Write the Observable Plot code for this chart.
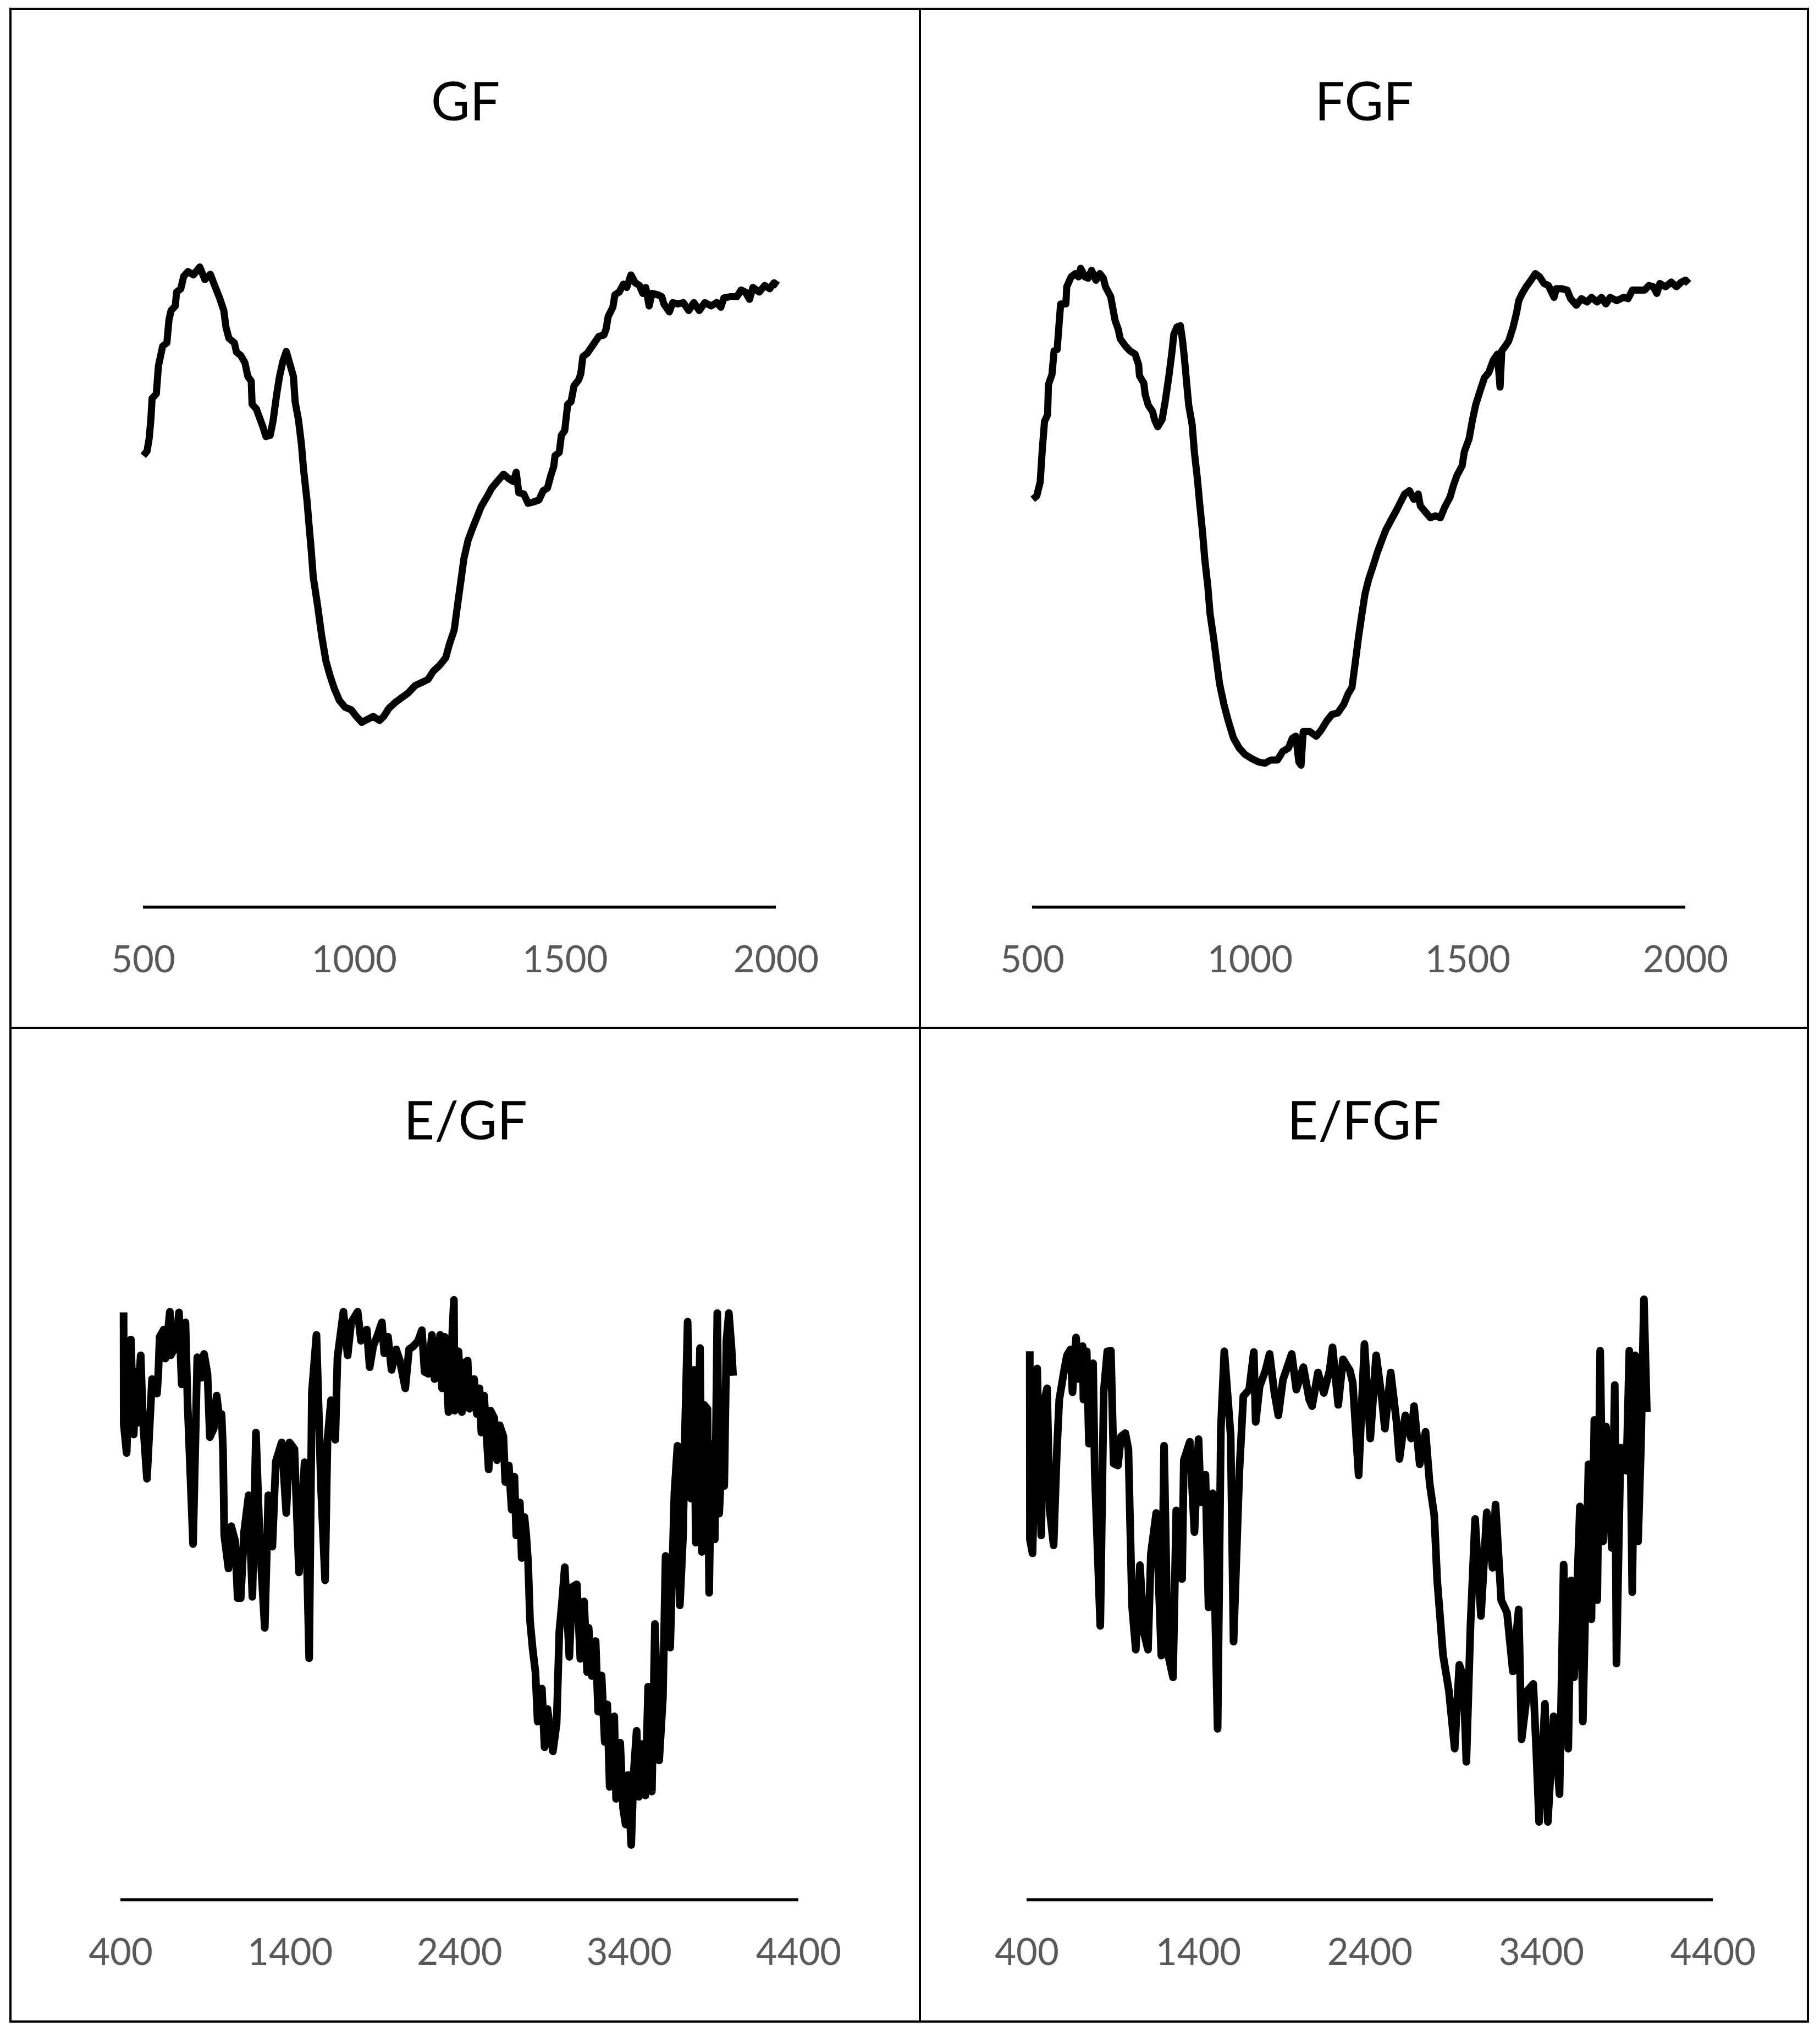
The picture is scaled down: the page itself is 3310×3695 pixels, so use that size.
<!DOCTYPE html>
<html>
<head>
<meta charset="utf-8">
<script src="https://cdn.jsdelivr.net/npm/d3@7"></script>
<script src="https://cdn.jsdelivr.net/npm/@observablehq/plot@0.6"></script>
<style>
  html, body { margin: 0; padding: 0; background: #fff; overflow: hidden; }
  #page { position: relative; width: 3310px; height: 3695px; background: #fff; overflow: hidden; }
  .panel { position: absolute; }
  .rule { position: absolute; background: #000; z-index: 5; }
</style>
</head>
<body>
<div id="page"></div>
<script>
// ---------------- DATA ----------------
const titles = ["GF", "FGF", "E/GF", "E/FGF"];
const ticksTop = [500, 1000, 1500, 2000];
const ticksBottom = [400, 1400, 2400, 3400, 4400];

// GF
const gfWavenumber = [
  500,509,514,518,521,531,536,546,556,561,
  566,576,579,589,596,606,619,634,646,659,
  668,681,691,696,703,716,721,731,741,748,
  756,758,768,776,783,791,801,808,816,823,
  831,839,848,856,860,868,875,880,888,893,
  898,903,913,923,933,943,953,965,978,993,
  1005,1018,1033,1045,1060,1070,1082,1097,1112,1127,
  1145,1162,1175,1187,1202,1217,1225,1237,1245,1253,
  1260,1270,1281,1291,1301,1314,1326,1339,1354,1367,
  1377,1384,1390,1402,1412,1425,1438,1448,1458,1466,
  1473,1476,1486,1491,1499,1506,1514,1521,1532,1537,
  1542,1552,1564,1580,1592,1597,1602,1613,1618,1628,
  1638,1646,1656,1666,1676,1684,1691,1699,1706,1719,
  1729,1734,1747,1755,1767,1780,1793,1805,1818,1831,
  1846,1859,1869,1876,1891,1907,1917,1927,1937,1945,
  1960,1973,1985,1995,2004
];
const gfTransmittance = [
  68.4,69.1,71.0,73.8,77.1,77.8,82.0,85.0,85.5,89.0,
  90.4,91.1,93.2,93.7,95.6,96.3,95.8,97.0,95.1,95.9,
  94.4,92.3,90.4,87.9,86.2,85.5,84.1,83.6,82.5,80.4,
  79.7,76.2,75.5,74.1,72.9,71.3,71.5,73.8,77.6,80.4,
  82.7,84.2,82.2,80.4,76.6,73.8,70.1,66.3,61.7,57.9,
  54.2,50.0,45.8,41.1,37.3,35.0,33.1,31.3,30.3,29.9,
  28.9,28.0,28.5,28.9,28.3,28.9,30.1,31.0,31.7,32.4,
  33.6,34.1,34.5,35.7,36.6,37.8,39.7,42.0,45.8,49.5,
  52.8,55.6,57.5,59.1,60.7,62.1,63.5,64.5,65.6,64.9,
  64.5,65.9,62.8,62.6,61.2,61.4,61.7,63.1,63.5,65.4,
  66.8,68.4,68.9,71.5,72.2,76.2,76.6,79.0,79.9,80.8,
  83.4,83.9,85.0,86.5,86.7,87.6,89.5,90.9,92.8,93.2,
  94.4,93.9,95.8,94.6,94.2,93.0,93.9,91.1,93.0,92.8,
  92.5,91.4,90.2,91.6,91.4,91.6,90.4,91.6,90.4,91.6,
  91.1,91.6,90.9,92.3,92.5,92.5,93.5,93.2,92.1,93.9,
  93.2,94.2,93.7,94.6,94.2
];

// FGF
const fgfWavenumber = [
  501,510,518,523,528,535,537,545,550,557,
  562,565,577,579,589,599,606,611,621,628,
  636,646,655,663,668,680,685,690,697,702,
  714,724,736,744,746,756,759,766,776,781,
  788,798,805,813,820,825,832,840,845,849,
  854,859,867,872,879,884,891,896,903,908,
  916,923,930,940,950,962,975,989,1004,1019,
  1034,1048,1063,1075,1088,1097,1105,1112,1117,1122,
  1137,1152,1164,1176,1188,1201,1215,1225,1234,1241,
  1249,1257,1264,1272,1282,1292,1302,1312,1325,1335,
  1345,1355,1366,1376,1386,1391,1401,1414,1426,1437,
  1447,1459,1467,1475,1487,1492,1503,1510,1518,1528,
  1538,1548,1558,1568,1574,1578,1586,1594,1604,1612,
  1617,1624,1634,1645,1655,1665,1675,1685,1698,1703,
  1716,1728,1736,1749,1761,1774,1784,1797,1807,1817,
  1827,1842,1858,1868,1878,1893,1906,1916,1926,1934,
  1941,1954,1967,1979,1990,2000,2007
];
const fgfTransmittance = [
  61.8,62.3,64.4,69.5,73.6,74.6,79.2,80.7,84.3,84.5,
  88.9,91.4,91.4,94.0,95.5,96.0,95.5,96.8,95.5,95.3,
  96.5,95.0,96.0,95.3,94.0,92.5,90.7,88.9,87.6,86.1,
  85.0,84.3,83.8,82.2,80.5,79.4,77.7,76.1,75.1,73.8,
  72.8,73.9,76.6,80.2,83.8,86.8,87.9,88.1,85.8,83.3,
  79.7,76.1,73.1,69.0,64.9,61.3,56.7,52.7,48.6,44.5,
  40.9,37.3,33.8,30.7,28.2,25.6,24.1,23.1,22.5,22.0,
  21.8,22.3,22.3,23.6,24.1,25.6,25.9,22.0,21.5,26.6,
  26.6,25.9,26.9,28.2,29.2,29.4,30.7,32.3,33.3,36.8,
  40.9,44.5,47.5,49.6,51.6,53.7,55.5,57.2,58.8,60.0,
  61.3,62.6,63.1,61.8,62.6,60.8,60.0,59.0,59.3,59.0,
  60.6,62.1,63.9,65.4,66.9,69.0,71.0,73.6,76.1,78.2,
  80.2,81.0,82.8,83.8,78.8,84.3,85.0,85.8,87.9,90.1,
  91.9,92.9,94.0,95.0,96.0,95.5,94.5,94.2,92.4,93.7,
  93.7,93.5,92.2,91.2,92.2,91.7,92.4,91.7,92.4,91.4,
  92.4,91.9,92.4,92.2,93.5,93.5,93.5,94.2,94.0,93.0,
  94.5,94.0,94.7,94.0,94.7,95.0,94.5
];

// E/GF
const egfWavenumber = [
  417,418,435,460,477,487,493,518,531,555,
  585,614,622,630,654,663,690,695,722,744,
  760,782,795,827,852,877,892,912,926,949,
  966,982,995,1004,1011,1036,1052,1076,1090,1108,
  1128,1155,1177,1198,1220,1250,1271,1295,1315,1350,
  1377,1396,1425,1452,1485,1512,1528,1555,1582,1606,
  1620,1641,1666,1679,1714,1739,1760,1798,1818,1852,
  1869,1890,1912,1941,1955,1977,1998,2025,2047,2079,
  2101,2128,2155,2177,2193,2215,2236,2252,2285,2296,
  2312,2334,2366,2370,2393,2413,2431,2447,2458,2485,
  2501,2517,2528,2544,2571,2582,2604,2620,2636,2658,
  2669,2690,2707,2723,2734,2755,2766,2782,2793,2804,
  2815,2831,2847,2860,2885,2901,2918,2950,2972,2988,
  3004,3020,3047,3064,3091,3112,3134,3152,3161,3180,
  3202,3217,3237,3256,3271,3285,3312,3323,3347,3364,
  3379,3393,3412,3426,3444,3458,3477,3496,3512,3534,
  3552,3577,3599,3615,3642,3667,3685,3699,3718,3729,
  3745,3764,3783,3793,3818,3829,3842,3862,3872,3885,
  3905,3920,3931,3950,3961,3974,3988,4004,4013
];
const egfTransmittance = [
  89.0,72.1,67.7,84.9,70.5,80.0,72.2,82.5,72.7,63.8,
  78.9,76.7,79.8,85.3,86.4,82.0,89.1,82.5,83.7,89.0,
  78.1,87.5,75.0,53.9,82.2,79.1,82.7,79.7,70.1,71.4,
  76.4,73.0,73.6,68.0,55.2,50.2,56.6,54.3,45.7,45.7,
  55.7,61.3,45.9,70.8,54.6,41.2,61.3,53.5,66.4,69.3,
  58.6,69.3,68.3,49.6,66.3,36.6,76.9,85.6,62.4,48.4,
  69.7,75.7,69.7,82.2,89.1,82.5,87.5,89.1,84.7,86.4,
  80.7,83.9,85.3,87.5,82.8,85.3,80.3,83.4,81.7,77.5,
  83.4,83.9,84.7,86.3,80.0,79.7,85.6,78.9,85.6,77.5,
  85.3,73.9,90.9,74.1,83.1,73.9,81.4,81.7,74.4,78.9,
  73.6,77.5,70.8,76.4,65.2,74.1,73.0,66.6,71.9,70.2,
  63.3,65.8,59.1,64.1,55.2,60.2,51.8,58.0,55.2,51.0,
  42.3,37.9,34.5,27.0,32.0,23.1,28.9,22.5,26.7,40.7,
  45.1,50.4,36.8,47.4,47.8,36.5,45.2,34.5,41.2,33.9,
  39.2,28.5,34.0,23.9,29.6,17.1,27.8,15.3,23.8,13.9,
  11.4,18.9,8.3,18.9,25.6,15.6,23.6,15.8,32.3,16.4,
  41.8,21.1,30.6,52.1,38.2,61.6,68.8,44.6,55.2,70.5,
  87.6,60.8,80.3,54.1,83.6,52.7,75.0,74.4,46.5,69.1,
  54.6,88.9,58.5,68.6,62.7,84.7,88.9,83.6,79.4
];

// E/FGF
const efgfWavenumber = [
  417,418,433,460,484,495,518,533,556,575,
  589,618,634,655,666,687,703,725,730,749,
  762,786,796,828,848,869,890,906,931,949,
  974,992,1013,1035,1059,1083,1106,1123,1154,1184,
  1200,1222,1252,1271,1305,1315,1350,1377,1401,1414,
  1441,1459,1483,1512,1531,1551,1588,1605,1639,1662,
  1696,1723,1734,1757,1791,1815,1842,1866,1893,1944,
  1971,2012,2046,2063,2097,2131,2165,2182,2215,2243,
  2283,2300,2334,2368,2402,2436,2470,2487,2521,2555,
  2572,2606,2640,2657,2690,2724,2748,2775,2792,2826,
  2860,2894,2921,2945,2962,2986,3013,3047,3081,3115,
  3132,3165,3199,3233,3267,3284,3318,3352,3369,3386,
  3420,3437,3471,3505,3529,3556,3573,3590,3624,3641,
  3674,3691,3708,3725,3742,3759,3776,3810,3827,3837,
  3861,3895,3912,3929,3946,3963,3980,3997,4014
];
const efgfTransmittance = [
  83.1,54.6,52.5,80.5,55.2,74.7,77.5,59.1,53.7,68.0,
  75.8,80.3,82.5,83.4,76.9,85.2,78.9,83.9,75.8,83.1,
  69.1,81.3,64.7,41.5,76.9,83.1,83.2,66.1,65.8,70.2,
  70.7,68.3,44.6,37.9,50.7,40.4,37.9,52.4,58.6,37.0,
  68.8,37.3,33.7,59.0,48.6,66.6,69.4,55.7,69.8,60.2,
  64.4,44.3,61.6,25.9,71.4,83.1,70.4,39.1,65.0,76.3,
  77.3,83.0,72.4,77.8,80.2,82.7,77.0,73.4,78.8,82.7,
  77.3,80.7,75.8,74.8,79.9,76.8,80.2,83.7,75.0,81.9,
  80.2,78.3,64.3,84.2,69.9,82.5,75.8,71.4,79.9,72.4,
  66.8,73.4,69.9,74.8,66.0,70.9,63.1,58.2,48.4,37.1,
  31.7,22.9,35.6,33.7,20.9,41.5,57.7,43.0,58.7,50.3,
  59.9,45.4,43.5,34.6,44.0,24.3,31.7,32.7,22.9,11.8,
  29.7,11.8,27.8,16.0,50.8,22.9,48.4,33.7,59.6,27.0,
  66.0,42.5,72.7,45.4,83.2,54.3,71.7,53.3,78.0,35.8,
  68.5,65.0,83.2,46.6,82.5,54.3,69.0,91.0,73.9
];

// ---------------- LAYOUT ----------------
const page = document.getElementById("page");
const FONT = "Lato, 'Open Sans', 'DejaVu Sans', sans-serif";

const panels = [
  {title: titles[0], xs: gfWavenumber, ys: gfTransmittance, ticks: ticksTop,
   left: 19, top: 19, width: 1654, height: 1849, xRange: [241, 1392], axisY: 1630, titleDy: 199, sw: 13},
  {title: titles[1], xs: fgfWavenumber, ys: fgfTransmittance, ticks: ticksTop,
   left: 1673, top: 19, width: 1615, height: 1849, xRange: [204, 1392], axisY: 1630, titleDy: 199, sw: 13},
  {title: titles[2], xs: egfWavenumber, ys: egfTransmittance, ticks: ticksBottom,
   left: 19, top: 1868, width: 1654, height: 1808, xRange: [200, 1433], axisY: 1586, titleDy: 203, sw: 14},
  {title: titles[3], xs: efgfWavenumber, ys: efgfTransmittance, ticks: ticksBottom,
   left: 1673, top: 1868, width: 1615, height: 1808, xRange: [194, 1442], axisY: 1586, titleDy: 203, sw: 14}
];

for (const p of panels) {
  const rows = p.xs.map((w, i) => ({wavenumber: w, transmittance: p.ys[i]}));
  const x0 = p.ticks[0], x1 = p.ticks[p.ticks.length - 1];
  const chart = Plot.plot({
    width: p.width,
    height: p.height,
    marginTop: 0,
    marginLeft: 0,
    marginRight: 0,
    marginBottom: p.height - p.axisY,
    style: {background: "transparent", fontFamily: FONT, overflow: "visible"},
    x: {domain: [x0, x1], range: p.xRange},
    y: {domain: [0, 100], range: [p.axisY, p.axisY - 1200], axis: null},
    marks: [
      Plot.ruleY([0], {x1: x0, x2: x1, stroke: "#000", strokeWidth: 5.5}),
      Plot.axisX(p.ticks, {tickSize: 0, tickPadding: 71, fontSize: 67, fill: "#595959",
        label: null, tickFormat: d => String(d), fontFamily: FONT}),
      Plot.line(rows, {x: "wavenumber", y: "transmittance", stroke: "#000",
        strokeWidth: p.sw, strokeLinejoin: "round", strokeLinecap: "butt"}),
      Plot.text([p.title], {frameAnchor: "top", lineAnchor: "bottom", dy: p.titleDy,
        fontSize: 97, fill: "#000", fontFamily: FONT})
    ]
  });
  const holder = document.createElement("div");
  holder.className = "panel";
  holder.style.left = p.left + "px";
  holder.style.top = p.top + "px";
  holder.style.width = p.width + "px";
  holder.style.height = p.height + "px";
  chart.style.maxWidth = "none";
  holder.appendChild(chart);
  page.appendChild(holder);
}

// Panel border rules
const rules = [
  {l: 17, t: 14, w: 4, h: 3664},
  {l: 3286, t: 14, w: 4, h: 3664},
  {l: 17, t: 14, w: 3273, h: 4},
  {l: 17, t: 3674, w: 3273, h: 4},
  {l: 1671, t: 14, w: 4, h: 3664},
  {l: 17, t: 1867, w: 3273, h: 4}
];
for (const r of rules) {
  const d = document.createElement("div");
  d.className = "rule";
  d.style.left = r.l + "px"; d.style.top = r.t + "px";
  d.style.width = r.w + "px"; d.style.height = r.h + "px";
  page.appendChild(d);
}
</script>
</body>
</html>
